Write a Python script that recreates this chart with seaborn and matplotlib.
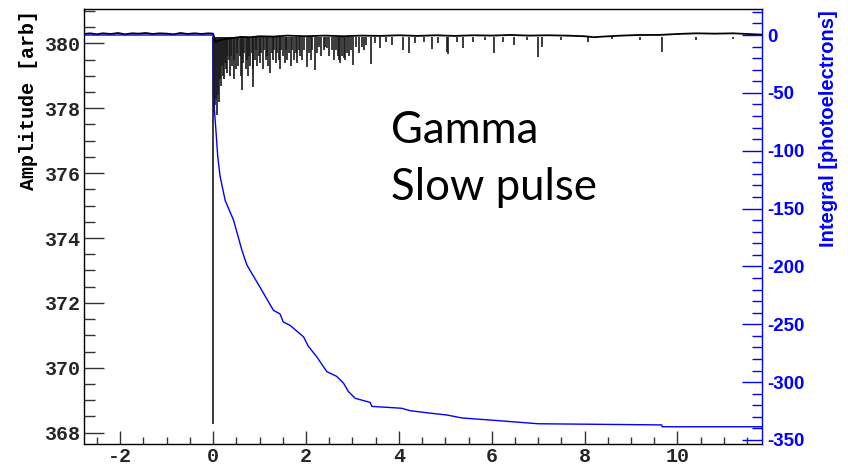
import matplotlib
matplotlib.use("Agg")
import matplotlib.pyplot as plt
import seaborn as sns
import pandas as pd
from matplotlib.ticker import MultipleLocator

# ---------------- data ----------------
# baseline of the waveform (Amplitude [arb])
base_t = [-2.78, -2.65, -2.5, -2.38, -2.2, -2.05, -1.9, -1.75, -1.6, -1.45, -1.3, -1.15,
          -1.0, -0.85, -0.7, -0.55, -0.4, -0.25, -0.1, 0.0,
          0.05, 0.2, 0.4, 0.6, 0.8, 1.0, 1.3, 1.6, 2.0, 2.4, 2.8, 3.2, 3.6, 4.0, 4.4,
          4.8, 5.2, 5.6, 6.0, 6.4, 6.8, 7.2, 7.6, 8.0, 8.2, 8.4, 8.8, 9.2, 9.6, 10.0,
          10.4, 10.8, 11.2, 11.5, 11.82]
base_amp = [380.29, 380.31, 380.28, 380.31, 380.29, 380.32, 380.28, 380.31, 380.30, 380.32,
            380.29, 380.31, 380.30, 380.28, 380.32, 380.29, 380.31, 380.29, 380.31, 380.30,
            380.05, 380.12, 380.16, 380.20, 380.19, 380.22, 380.21, 380.24, 380.22, 380.24,
            380.22, 380.24, 380.23, 380.25, 380.23, 380.25, 380.23, 380.25, 380.24, 380.26,
            380.24, 380.25, 380.24, 380.22, 380.19, 380.21, 380.24, 380.26, 380.26, 380.29,
            380.31, 380.30, 380.31, 380.29, 380.27]

# negative excursions of the waveform (time, minimum amplitude)
dip_t = [0.003, 0.012, 0.03, 0.05, 0.07, 0.09, 0.11, 0.13, 0.15, 0.17, 0.19, 0.21, 0.23, 0.25,
         0.27, 0.29, 0.31, 0.34, 0.36, 0.39, 0.41, 0.44, 0.46, 0.49, 0.52, 0.54, 0.57, 0.60,
         0.62, 0.65, 0.67, 0.70, 0.72, 0.75, 0.78, 0.80, 0.83, 0.85, 0.87, 0.90, 0.93, 0.95,
         0.98, 1.01, 1.04, 1.07, 1.10, 1.13, 1.16, 1.19, 1.23, 1.26, 1.29, 1.32, 1.35, 1.38,
         1.41, 1.44, 1.47, 1.50, 1.54, 1.57, 1.60, 1.64, 1.67, 1.70, 1.74, 1.78, 1.81, 1.85,
         1.88, 1.92, 1.96, 2.02, 2.06, 2.10, 2.14, 2.20, 2.24, 2.28, 2.32, 2.38, 2.42, 2.45,
         2.50, 2.56, 2.60, 2.64, 2.68, 2.72, 2.74, 2.78, 2.81, 2.84, 2.88, 2.92, 2.96, 3.02,
         3.08, 3.15, 3.20, 3.24, 3.30, 3.40, 3.48, 3.60, 3.72, 3.85, 4.09, 4.21, 4.35, 4.55,
         4.71, 4.85, 5.03, 5.05, 5.25, 5.39, 5.60, 5.85, 6.04, 6.25, 6.48, 6.75, 6.99, 7.08,
         7.50, 8.08, 8.60, 9.20, 9.66, 10.40, 11.20]
dip_amp = [368.26, 377.90, 377.85, 378.10, 378.30, 377.80, 378.40, 378.20, 378.90, 378.70,
           379.30, 379.00, 378.90, 379.40, 379.20, 379.60, 379.10, 379.50, 379.00, 379.60,
           379.30, 378.90, 379.50, 379.20, 379.70, 379.30, 379.60, 379.00, 378.56, 379.40,
           379.70, 379.20, 379.50, 379.00, 379.60, 379.30, 379.70, 379.20, 378.66, 379.50,
           379.80, 379.30, 379.60, 379.40, 379.70, 379.20, 379.80, 379.50, 379.60, 379.30,
           379.08, 379.70, 379.50, 379.80, 379.40, 379.70, 379.50, 379.20, 379.80, 379.60,
           379.40, 379.80, 379.50, 379.70, 379.30, 379.80, 379.50, 379.70, 379.40, 379.80,
           379.60, 379.50, 379.80, 379.28, 379.70, 379.50, 379.80, 379.18, 379.70, 379.90,
           379.60, 379.79, 379.90, 379.85, 379.60, 379.79, 379.50, 379.80, 379.60, 379.50,
           379.40, 379.60, 379.55, 379.50, 379.70, 379.60, 379.80, 379.33, 379.90, 379.70,
           379.90, 379.80, 379.95, 379.35, 380.00, 379.85, 380.05, 379.95, 379.79, 379.69,
           380.00, 380.05, 379.82, 380.00, 379.74, 379.66, 380.05, 379.85, 380.05, 380.10,
           379.69, 380.05, 379.95, 380.10, 379.57, 379.90, 380.10, 380.05, 380.12, 380.10,
           379.72, 380.10, 380.12]

# running integral (photoelectrons)
int_t = [-2.78, 0.0, 0.01, 0.06, 0.10, 0.15, 0.26, 0.44, 0.62, 0.73, 1.01, 1.30, 1.44,
         1.51, 1.66, 1.95, 2.05, 2.23, 2.45, 2.66, 2.81, 2.91, 3.06, 3.24, 3.38, 3.42, 4.06,
         4.24, 4.71, 5.03, 5.36, 6.04, 7.00, 9.66, 9.67, 11.82]
int_val = [0, 0, -55, -82, -105, -122, -143, -160, -186, -199, -218, -238, -241,
           -248, -251, -261, -269, -278, -291, -295, -301, -308, -314, -316, -317.5, -321,
           -322.6, -324.7, -327, -328.4, -331, -333, -336, -337, -338.6, -338.6]

x_ticks = [-2, 0, 2, 4, 6, 8, 10]
y_ticks = [368, 370, 372, 374, 376, 378, 380]
y2_ticks = [0, -50, -100, -150, -200, -250, -300, -350]

# ---------------- plot ----------------
sns.set_style("ticks")
plt.rcParams["font.family"] = ["DejaVu Sans"]

W, H = 848, 468
fig = plt.figure(figsize=(W / 100, H / 100), dpi=100)
ax = fig.add_axes([84 / W, 24 / H, 678 / W, 435 / H])

wave = pd.DataFrame({"t": base_t, "amp": base_amp})
ax.vlines(dip_t, dip_amp, 380.2, color="#1a1a1a", lw=1.2, zorder=2)
sns.lineplot(data=wave, x="t", y="amp", ax=ax, color="black", lw=1.3,
             sort=False, estimator=None, zorder=3)

ax.set_xlim(-2.78, 11.82)
ax.set_ylim(367.65, 381.06)
ax.set_xlabel("")
ax.set_ylabel("")

mono = dict(family="Liberation Mono", weight="bold", size=14.4)
ax.set_xticks(x_ticks)
ax.set_xticklabels([str(v) for v in x_ticks], fontdict=mono)
ax.set_yticks(y_ticks)
ax.set_yticklabels([str(v) for v in y_ticks], fontdict=mono)
ax.xaxis.set_minor_locator(MultipleLocator(0.5))
ax.yaxis.set_minor_locator(MultipleLocator(0.5))
ax.tick_params(axis="x", which="major", direction="in", length=9.4, width=1.0,
               color="#333333", pad=2.0, top=False)
ax.tick_params(axis="x", which="minor", direction="in", length=5, width=1.0,
               color="#333333", top=False)
ax.tick_params(axis="y", which="major", direction="in", length=14.4, width=1.0,
               color="#333333", pad=3, right=False)
ax.tick_params(axis="y", which="minor", direction="in", length=8, width=1.0,
               color="#333333", right=False)
for s in ["left", "bottom", "top"]:
    ax.spines[s].set_color("black")
    ax.spines[s].set_linewidth(1.0)
ax.spines["right"].set_visible(False)

ax2 = ax.twinx()
integ = pd.DataFrame({"t": int_t, "v": int_val})
sns.lineplot(data=integ, x="t", y="v", ax=ax2, color="#0000ff", lw=1.0,
             sort=False, estimator=None)
ax2.set_ylim(-353.5, 22.5)
ax2.set_ylabel("")
ax2.set_yticks(y2_ticks)
ax2.set_yticklabels([str(v) for v in y2_ticks],
                    fontdict=dict(family="Liberation Sans", weight="bold", size=13.5),
                    color="#0000ff")
ax2.yaxis.set_minor_locator(MultipleLocator(10))
ax2.tick_params(axis="y", which="major", direction="in", length=14.4, width=1.0,
                color="#0000ff", pad=3.5)
ax2.tick_params(axis="y", which="minor", direction="in", length=7, width=1.0,
                color="#0000ff")
for s in ["left", "bottom", "top"]:
    ax2.spines[s].set_visible(False)
ax2.spines["right"].set_color("#0000ff")
ax2.spines["right"].set_linewidth(1.0)

fig.text(29 / W, 1 - 10 / H, "Amplitude [arb]", rotation=90, ha="center", va="top",
         family="Liberation Mono", weight="bold", size=14.4, color="black")
fig.text(828 / W, 1 - 10 / H, "Integral [photoelectrons]", rotation=90, ha="center",
         va="top", family="Liberation Sans", weight="bold", size=14.5, color="#0000ff")

fig.text(391 / W, 1 - 143 / H, "Gamma", ha="left", va="baseline",
         family="Lato", size=31.5, color="black")
fig.text(391 / W, 1 - 200 / H, "Slow pulse", ha="left", va="baseline",
         family="Lato", size=31.5, color="black")

fig.savefig("out.png", dpi=100, facecolor="white")
